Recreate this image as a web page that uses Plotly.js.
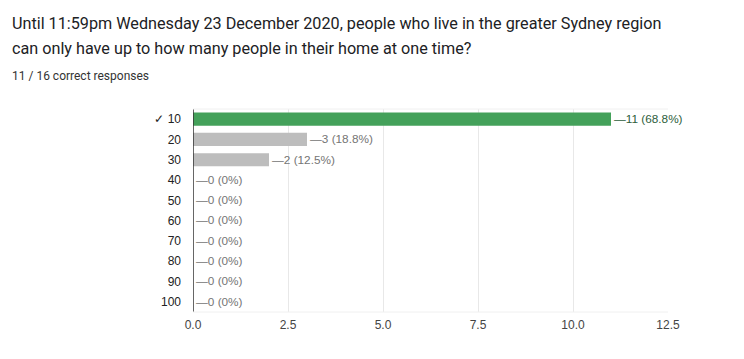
<!DOCTYPE html>
<html>
<head>
<meta charset="utf-8">
<script src="https://cdn.plot.ly/plotly-3.0.1.min.js"></script>
<style>html,body{margin:0;padding:0;background:#fff;}#chart{width:744px;height:359px;}</style>
</head>
<body>
<div id="chart"></div>
<script>
const categories = ["✓ 10", "20", "30", "40", "50", "60", "70", "80", "90", "100"];
const counts = [11, 3, 2, 0, 0, 0, 0, 0, 0, 0];
const percents = ["68.8%", "18.8%", "12.5%", "0%", "0%", "0%", "0%", "0%", "0%", "0%"];
const correctIndex = 0;
const xTicks = [0, 2.5, 5, 7.5, 10, 12.5];
const titleLines = ["Until 11:59pm Wednesday 23 December 2020, people who live in the greater Sydney region",
  "can only have up to how many people in their home at one time?"];
const subtitle = "11 / 16 correct responses";

const W = 744, H = 359;
const M = {l: 193, r: 76, t: 109, b: 47};
const pw = W - M.l - M.r, ph = H - M.t - M.b;
const px = v => (v - M.l) / pw;
const py = v => 1 - (v - M.t) / ph;

const barColors = counts.map((c, i) => i === correctIndex ? "#44a15a" : "#bdbdbd");
const textColors = counts.map((c, i) => i === correctIndex ? "#2e5e3c" : "#757575");
const labels = counts.map((c, i) => "\u2014" + c + " (" + percents[i] + ")");

const trace = {
  type: "bar",
  orientation: "h",
  y: categories,
  x: counts,
  width: 0.65,
  marker: {color: barColors},
  text: labels,
  textposition: "outside",
  outsidetextfont: {family: "Liberation Sans, Arial, sans-serif", size: 12.5, color: textColors},
  cliponaxis: false,
  hoverinfo: "none"
};

const layout = {
  width: W, height: H,
  margin: M,
  paper_bgcolor: "#fff", plot_bgcolor: "#fff",
  showlegend: false,
  bargap: 0.35,
  font: {family: "Liberation Sans, Arial, sans-serif", color: "#222"},
  xaxis: {
    range: [0, 12.5],
    tickvals: xTicks,
    tickformat: ".1f",
    showgrid: true, gridcolor: "#e8e8e8", gridwidth: 1,
    zeroline: false, showline: false,
    ticks: "",
    ticklabelstandoff: 4,
    tickfont: {size: 12, color: "#444"},
    fixedrange: true
  },
  yaxis: {
    type: "category",
    autorange: "reversed",
    showgrid: false, zeroline: false,
    showline: false,
    ticks: "",
    ticklabelstandoff: 11,
    tickfont: {size: 12, color: "#222"},
    fixedrange: true
  },
  shapes: [
    {type: "line", xref: "x", yref: "paper", x0: 0, x1: 0, y0: 0, y1: 1, line: {color: "#333", width: 1.5}},
    {type: "line", xref: "paper", yref: "paper", x0: 0, x1: 1, y0: 1, y1: 1, line: {color: "#f0f0f0", width: 1}},
    {type: "line", xref: "paper", yref: "paper", x0: 0, x1: 1, y0: 0, y1: 0, line: {color: "#f0f0f0", width: 1}}
  ],
  annotations: [
    {text: titleLines[0], xref: "paper", yref: "paper", x: px(10), y: py(23), xanchor: "left", yanchor: "middle", showarrow: false,
     font: {family: "Roboto, sans-serif", size: 16.2, color: "#202124"}},
    {text: titleLines[1], xref: "paper", yref: "paper", x: px(10), y: py(49), xanchor: "left", yanchor: "middle", showarrow: false,
     font: {family: "Roboto, sans-serif", size: 16.2, color: "#202124"}},
    {text: subtitle, xref: "paper", yref: "paper", x: px(10), y: py(76), xanchor: "left", yanchor: "middle", showarrow: false,
     font: {family: "Roboto, sans-serif", size: 12, color: "#333"}}
  ]
};

Plotly.newPlot("chart", [trace], layout, {displayModeBar: false, staticPlot: true});
</script>
</body>
</html>
